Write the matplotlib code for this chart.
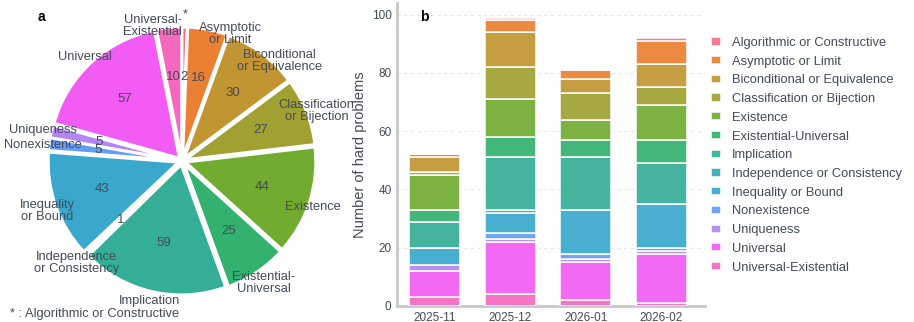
import matplotlib
matplotlib.use("Agg")
import matplotlib.pyplot as plt
import numpy as np
import seaborn as sns

plt.rcParams["font.family"] = ["Liberation Sans", "DejaVu Sans"]

# ── Data ──
CATEGORIES = [
    "Algorithmic or Constructive", "Asymptotic or Limit", "Biconditional or Equivalence",
    "Classification or Bijection", "Existence", "Existential-Universal", "Implication",
    "Independence or Consistency", "Inequality or Bound", "Nonexistence", "Uniqueness",
    "Universal", "Universal-Existential",
]
PIE_LABELS = [
    "*", "Asymptotic\nor Limit", "Biconditional\nor Equivalence", "Classification\nor Bijection",
    "Existence", "Existential-\nUniversal", "Implication", "Independence\nor Consistency",
    "Inequality\nor Bound", "Nonexistence", "Uniqueness", "Universal", "Universal-\nExistential",
]
PIE_COUNTS = [2, 16, 30, 27, 44, 25, 59, 1, 43, 5, 5, 57, 10]

MONTHS = ["2025-11", "2025-12", "2026-01", "2026-02"]
# per category, counts for each month
MONTHLY = {
    "Algorithmic or Constructive":  [0, 1, 0, 1],
    "Asymptotic or Limit":          [1, 4, 3, 8],
    "Biconditional or Equivalence": [5, 12, 5, 8],
    "Classification or Bijection":  [1, 11, 9, 6],
    "Existence":                    [12, 13, 7, 12],
    "Existential-Universal":        [4, 7, 6, 8],
    "Implication":                  [9, 18, 18, 14],
    "Independence or Consistency":  [0, 1, 0, 0],
    "Inequality or Bound":          [6, 7, 15, 15],
    "Nonexistence":                 [0, 2, 2, 1],
    "Uniqueness":                   [2, 1, 1, 1],
    "Universal":                    [9, 18, 13, 17],
    "Universal-Existential":        [3, 4, 2, 1],
}

COLORS = sns.color_palette("husl", len(CATEGORIES))
TXT = "#444b58"
W, H = 914, 322

# small label nudges (px, right / down) so outside labels sit like the original
NUDGE = {
    "Universal-\nExistential": (-15, 11),
    "Asymptotic\nor Limit": (20, 17),
    "Biconditional\nor Equivalence": (10, 18),
    "Classification\nor Bijection": (-2, 4),
    "Existence": (-9, 1),
    "Universal": (3, 4),
    "Nonexistence": (7, 2),
    "Uniqueness": (4, 1),
    "Inequality\nor Bound": (4, 1),
    "Implication": (0, -3),
}

fig = plt.figure(figsize=(W / 100, H / 100), dpi=100)

# ── a. Pie ──
R_PX = 130.0
cx, cy = 182.0, 161.0  # centre in px (from left / bottom)
ax_w, ax_h = 370.0, 322.0
ax1 = fig.add_axes([0, 0, ax_w / W, ax_h / H])
total = sum(PIE_COUNTS)
wedges, texts, autotexts = ax1.pie(
    PIE_COUNTS, labels=PIE_LABELS, colors=COLORS, startangle=90, counterclock=False,
    explode=[0.03] * len(PIE_COUNTS), labeldistance=1.1, pctdistance=0.62,
    autopct=lambda p: f"{int(round(p * total / 100))}",
    wedgeprops=dict(edgecolor="white", linewidth=2),
    textprops=dict(color=TXT, fontsize=9.3),
)
for t in texts:
    t.set_ha("center")
    t.set_va("center")
    t.set_linespacing(1.0)
    dx, dy = NUDGE.get(t.get_text(), (0, 0))
    px, py = t.get_position()
    t.set_position((px + dx / R_PX, py - dy / R_PX))
for t in autotexts:
    t.set_fontsize(9.5)
ax1.set_aspect("auto")
ax1.set_xlim(-cx / R_PX, (ax_w - cx) / R_PX)
ax1.set_ylim(-cy / R_PX, (ax_h - cy) / R_PX)
ax1.axis("off")

fig.text(38 / W, 1 - 17 / H, "a", fontsize=10, fontweight="bold", ha="left", va="center")
fig.text(10 / W, 1 - 314 / H, "* : Algorithmic or Constructive", fontsize=9.3,
         color=TXT, ha="left", va="center")

# ── b. Stacked bars ──
ax2 = fig.add_axes([397 / W, 16 / H, 308 / W, 303 / H])
x = np.arange(len(MONTHS))
bottom = np.zeros(len(MONTHS))
handles = []
for name, col in reversed(list(zip(CATEGORIES, COLORS))):
    vals = np.array(MONTHLY[name], dtype=float)
    b = ax2.bar(x, vals, bottom=bottom, width=0.67, color=col, alpha=0.92,
                edgecolor="white", linewidth=1.2, label=name, zorder=3)
    bottom += vals
    handles.append(b)
ax2.set_xlim(-0.5, 3.58)
ax2.set_ylim(0, 104)
ax2.set_xticks(x)
ax2.set_xticklabels(MONTHS)
ax2.set_yticks([0, 20, 40, 60, 80, 100])
ax2.tick_params(length=0, labelsize=8.5, colors=TXT, pad=4)
ax2.set_ylabel("Number of hard problems", fontsize=10.5, color=TXT, labelpad=3)
ax2.grid(axis="y", color="#e6e6e6", linestyle=(0, (3, 3)), linewidth=0.8, zorder=0)
for s in ("top", "right"):
    ax2.spines[s].set_visible(False)
for s in ("left", "bottom"):
    ax2.spines[s].set_color("#c8c8c8")
    ax2.spines[s].set_linewidth(2)
fig.text(420 / W, 1 - 17 / H, "b", fontsize=10, fontweight="bold", ha="left", va="center")

fig.legend(handles[::-1], CATEGORIES, loc="upper left", bbox_to_anchor=(711 / W, 1 - 37 / H),
           frameon=False, fontsize=9.3, labelcolor=TXT, borderpad=0, borderaxespad=0,
           handlelength=0.8, handleheight=0.6, handletextpad=0.85, labelspacing=0.52)

fig.savefig("out.png", dpi=100)
